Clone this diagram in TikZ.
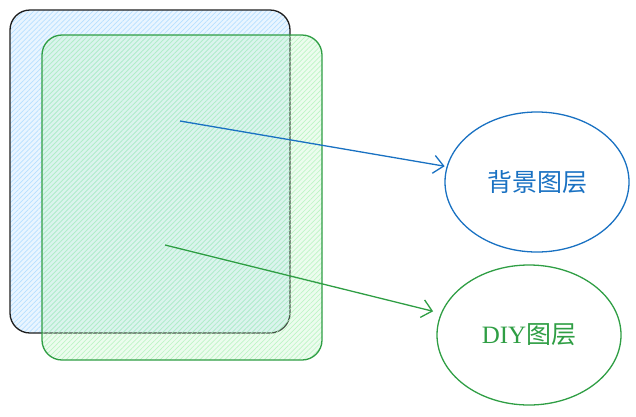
\documentclass[tikz,border=0pt]{standalone}
\usepackage{fontspec}
\setmainfont{Liberation Serif}
\newfontfamily\cjk{Noto Sans CJK SC}
\usetikzlibrary{shapes.geometric,arrows.meta,patterns.meta}
\definecolor{exblue}{HTML}{1971C2}
\definecolor{exgreen}{HTML}{2F9E44}
\definecolor{exblack}{HTML}{1E1E1E}
\definecolor{lblue}{HTML}{A5D8FF}
\definecolor{lgreen}{HTML}{B2F2BB}
\tikzset{
  layerbox/.style={rounded corners=20pt, line width=1.3pt},
  bubble/.style={ellipse, line width=1.3pt, minimum width=184pt, minimum height=140pt, font=\fontsize{25}{30}\selectfont},
  link/.style={line width=1.3pt, -{Straight Barb[length=10pt,width=18pt]}, shorten >=2pt}
}
\begin{document}
\begin{tikzpicture}[x=1pt,y=-1pt]
\useasboundingbox (0,0) rectangle (636,416);
% background layer
\fill[lblue!25, rounded corners=20pt] (10,10) rectangle (290,333);
\fill[pattern={Lines[angle=45,distance=3.5pt,line width=0.7pt]}, pattern color=lblue!80, rounded corners=20pt] (10,10) rectangle (290,333);
\draw[layerbox, exblack] (10,10) rectangle (290,333);
% DIY layer
\fill[lgreen, opacity=0.25, rounded corners=20pt] (42,35) rectangle (322,360);
\fill[pattern={Lines[angle=45,distance=3.5pt,line width=0.7pt]}, pattern color=lgreen, opacity=0.8, rounded corners=20pt] (42,35) rectangle (322,360);
\draw[layerbox, exgreen] (42,35) rectangle (322,360);
% ellipses
\node[bubble, draw=exblue, text=exblue] (bg) at (537,182) {\cjk 背景图层};
\node[bubble, draw=exgreen, text=exgreen] (diy) at (529,335) {DIY{\cjk 图层}};
% arrows
\coordinate (s1) at (180,121);
\coordinate (s2) at (165,245);
\draw[link, exblue] (s1) -- (bg);
\draw[link, exgreen, shorten >=8pt] (s2) -- (diy);
\end{tikzpicture}
\end{document}
